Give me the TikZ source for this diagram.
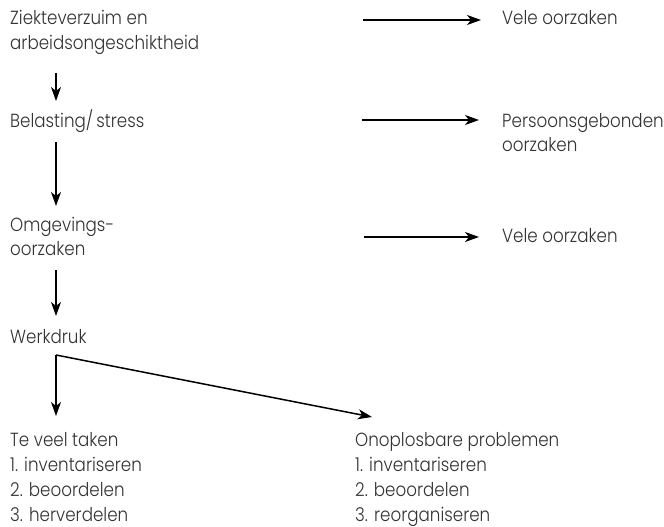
\documentclass[tikz,border=0pt]{standalone}
\usepackage{fontspec}
\setmainfont{Poppins}[UprightFont=* Light, FakeStretch=0.88]
\usetikzlibrary{arrows.meta}
\begin{document}
\begin{tikzpicture}[x=1pt,y=-1pt,
  txt/.style={anchor=base west,inner sep=0pt,text=black!80,font=\fontsize{19}{25}\selectfont},
  arr/.style={line width=1.5pt,-{Stealth[length=14pt,width=10pt,inset=4pt]}},
  ln/.style={line width=1.5pt}]
\useasboundingbox (0,0) rectangle (664,527);

% left column
\node[txt] (zi1) at (10,25) {Ziekteverzuim en};
\node[txt] (zi2) at (10,50) {arbeidsongeschiktheid};
\node[txt] (bel) at (10,127) {Belasting/\,stress};
\node[txt] (om1) at (10,231) {Omgevings-};
\node[txt] (om2) at (10,255) {oorzaken};
\node[txt] (wd)  at (10,343) {Werkdruk};

\node[txt] (tv0) at (10,446) {Te veel taken};
\node[txt] (tv1) at (10,471) {1. inventariseren};
\node[txt] (tv2) at (10,496) {2. beoordelen};
\node[txt] (tv3) at (10,521) {3. herverdelen};

% right column
\node[txt] (vo1) at (502,25) {Vele oorzaken};
\node[txt] (pg1) at (502,127) {Persoonsgebonden};
\node[txt] (pg2) at (502,151) {oorzaken};
\node[txt] (vo2) at (502,242) {Vele oorzaken};

\node[txt] (op0) at (355,446) {Onoplosbare problemen};
\node[txt] (op1) at (355,471) {1. inventariseren};
\node[txt] (op2) at (355,496) {2. beoordelen};
\node[txt] (op3) at (355,521) {3. reorganiseren};

% connector end points
\coordinate (v1a) at (56,73);  \coordinate (v1b) at (56,101);
\coordinate (v2a) at (56,142); \coordinate (v2b) at (56,206);
\coordinate (v3a) at (56,270); \coordinate (v3b) at (56,316);
\coordinate (br)  at (56,355);
\coordinate (b1)  at (56,416);
\coordinate (b2)  at (372,417);
\coordinate (h1a) at (363,20);  \coordinate (h1b) at (481,20);
\coordinate (h2a) at (362,120); \coordinate (h2b) at (479,120);
\coordinate (h3a) at (364,237); \coordinate (h3b) at (479,237);

% vertical chain
\draw[arr] (v1a) -- (v1b);
\draw[arr] (v2a) -- (v2b);
\draw[arr] (v3a) -- (v3b);

% branch below Werkdruk
\draw[arr] (br) -- (b1);
\draw[arr] (br) -- (b2);

% horizontal arrows to the causes
\draw[arr] (h1a) -- (h1b);
\draw[arr] (h2a) -- (h2b);
\draw[arr] (h3a) -- (h3b);
\end{tikzpicture}
\end{document}
